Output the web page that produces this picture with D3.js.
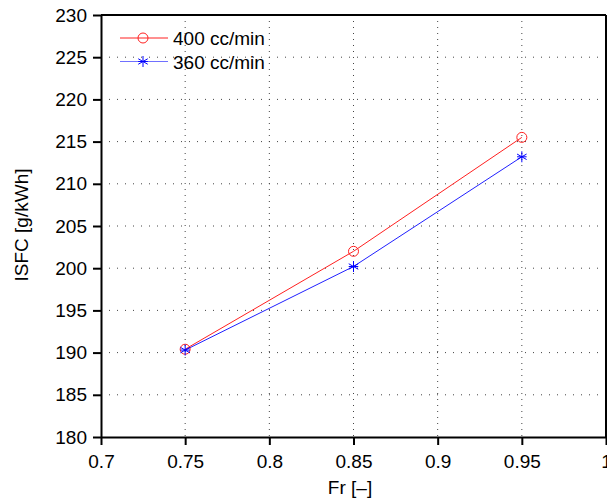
<!DOCTYPE html>
<html>
<head>
<meta charset="utf-8">
<script src="https://d3js.org/d3.v7.min.js"></script>
<style>
  body { margin: 0; background: #fff; }
  text { font-family: "Liberation Sans", Arial, sans-serif; }
</style>
</head>
<body>
<script>
var frValues = [0.75, 0.85, 0.95];
var isfc400 = [190.4, 202.0, 215.5];
var isfc360 = [190.3, 200.2, 213.2];
var seriesNames = ["400 cc/min", "360 cc/min"];
var xTicks = [0.7, 0.75, 0.8, 0.85, 0.9, 0.95, 1];
var yTicks = [180, 185, 190, 195, 200, 205, 210, 215, 220, 225, 230];

var W = 607, H = 499,
    pLeft = 101, pRight = 606, pTop = 15, pBottom = 437,
    fs = 19;

var svg = d3.select("body").append("svg")
    .attr("width", W)
    .attr("height", H);

var x = d3.scaleLinear().domain([0.7, 1]).range([pLeft, pRight]);
var y = d3.scaleLinear().domain([180, 230]).range([pBottom, pTop]);

// grid
svg.append("g").selectAll("line")
    .data(xTicks.slice(1, -1)).enter().append("line")
    .attr("x1", function(d){ return x(d); }).attr("x2", function(d){ return x(d); })
    .attr("y1", pTop).attr("y2", pBottom)
    .attr("stroke", "#444").attr("stroke-width", 1).attr("stroke-dasharray", "1,5");
svg.append("g").selectAll("line")
    .data(yTicks.slice(1, -1)).enter().append("line")
    .attr("y1", function(d){ return y(d); }).attr("y2", function(d){ return y(d); })
    .attr("x1", pLeft).attr("x2", pRight)
    .attr("stroke", "#444").attr("stroke-width", 1).attr("stroke-dasharray", "1,7");

// axes
var xAxis = d3.axisBottom(x).tickValues(xTicks).tickSizeInner(8).tickSizeOuter(0).tickPadding(10)
    .tickFormat(function(d){ return String(d); });
var yAxis = d3.axisLeft(y).tickValues(yTicks).tickSizeInner(8).tickSizeOuter(0).tickPadding(6)
    .tickFormat(d3.format("d"));

var gx = svg.append("g").attr("transform", "translate(0," + pBottom + ")").call(xAxis);
var gy = svg.append("g").attr("transform", "translate(" + pLeft + ",0)").call(yAxis);
[gx, gy].forEach(function(g){
    g.attr("font-size", fs).attr("font-family", "'Liberation Sans', Arial, sans-serif");
    g.select(".domain").attr("stroke", "#000").attr("stroke-width", 2);
    g.selectAll(".tick line").attr("stroke", "#000").attr("stroke-width", 2);
    g.selectAll(".tick text").attr("fill", "#000");
});

// box top/right
svg.append("line").attr("x1", pLeft).attr("x2", pRight).attr("y1", pTop).attr("y2", pTop)
    .attr("stroke", "#000").attr("stroke-width", 2);
svg.append("line").attr("x1", pRight).attr("x2", pRight).attr("y1", pTop).attr("y2", pBottom)
    .attr("stroke", "#000").attr("stroke-width", 2);

// labels
svg.append("text").attr("x", 350).attr("y", 494)
    .attr("text-anchor", "middle").style("font-size", fs + "px").text("Fr [\u2013]");
svg.append("text").attr("transform", "translate(28,225) rotate(-90)")
    .attr("text-anchor", "middle").style("font-size", fs + "px").text("ISFC [g/kWh]");

var line = d3.line().x(function(d){ return x(d[0]); }).y(function(d){ return y(d[1]); });
var data400 = frValues.map(function(f, i){ return [f, isfc400[i]]; });
var data360 = frValues.map(function(f, i){ return [f, isfc360[i]]; });

function star(g, cx, cy, s, color) {
    [0, 60, 120].forEach(function(a){
        var r = a * Math.PI / 180;
        g.append("line")
            .attr("x1", cx - s * Math.sin(r)).attr("y1", cy - s * Math.cos(r))
            .attr("x2", cx + s * Math.sin(r)).attr("y2", cy + s * Math.cos(r))
            .attr("stroke", color).attr("stroke-width", 1);
    });
    g.append("line").attr("x1", cx - s * 0.87).attr("x2", cx + s * 0.87)
        .attr("y1", cy).attr("y2", cy).attr("stroke", color).attr("stroke-width", 1);
}

svg.append("path").datum(data400).attr("d", line)
    .attr("fill", "none").attr("stroke", "#ff2020").attr("stroke-width", 1);
svg.append("path").datum(data360).attr("d", line)
    .attr("fill", "none").attr("stroke", "#2020ff").attr("stroke-width", 1);

svg.append("g").selectAll("circle").data(data400).enter().append("circle")
    .attr("cx", function(d){ return x(d[0]); }).attr("cy", function(d){ return y(d[1]); })
    .attr("r", 5).attr("fill", "none").attr("stroke", "#ff2020").attr("stroke-width", 1);
var starG = svg.append("g");
data360.forEach(function(d){ star(starG, x(d[0]), y(d[1]), 5.5, "#0000ff"); });

// legend
var leg = svg.append("g");
var legY = [38, 61.5];
leg.append("line").attr("x1", 120).attr("x2", 168).attr("y1", legY[0]).attr("y2", legY[0])
    .attr("stroke", "#ff2020").attr("stroke-width", 1);
leg.append("circle").attr("cx", 143).attr("cy", legY[0]).attr("r", 5)
    .attr("fill", "none").attr("stroke", "#ff2020");
leg.append("line").attr("x1", 120).attr("x2", 168).attr("y1", legY[1]).attr("y2", legY[1])
    .attr("stroke", "#7070ff").attr("stroke-width", 1);
star(leg, 143, legY[1], 5.5, "#0000ff");
seriesNames.forEach(function(n, i){
    leg.append("text").attr("x", 173).attr("y", legY[i] + 7)
        .style("font-size", fs + "px").text(n);
});
</script>
</body>
</html>
